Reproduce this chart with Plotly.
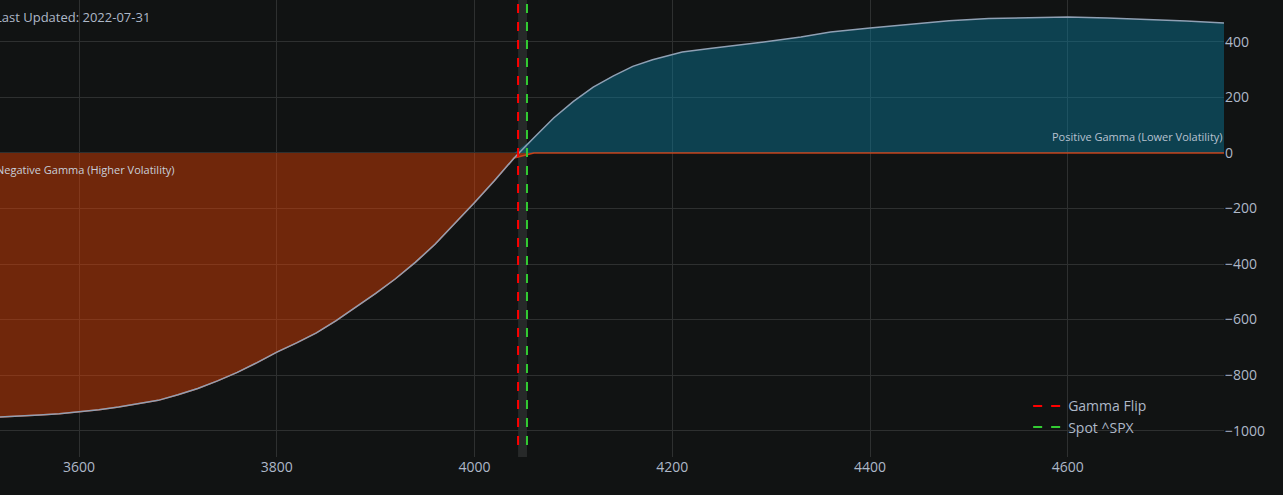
import plotly.graph_objects as go

strikes = [3520, 3540, 3560, 3580, 3600, 3620, 3640, 3660, 3680, 3700, 3720, 3740,
           3760, 3780, 3800, 3820, 3840, 3860, 3880, 3900, 3920, 3940, 3960, 3980,
           4000, 4020, 4040, 4060, 4080, 4100, 4120, 4140, 4160, 4180, 4200, 4210,
           4240, 4270, 4300, 4330, 4360, 4400, 4440, 4480, 4520, 4560, 4600, 4640,
           4680, 4720, 4758]
gamma = [-951, -948, -944, -939, -932, -925, -915, -904, -891, -871, -848, -821,
         -790, -755, -717, -684, -648, -604, -556, -506, -453, -394, -329, -255,
         -178, -100, -18, 55, 126, 186, 237, 277, 312, 336, 355, 364,
         377, 389, 403, 418, 436, 450, 464, 476, 484, 488, 490, 486,
         481, 475, 468]

gamma_flip = 4044
spot = 4053
last_updated = "2022-07-31"
line_ends = [-1052, 560]

neg = [min(v, 0) for v in gamma]
pos = [max(v, 0) for v in gamma]

fig = go.Figure()
fig.add_trace(go.Scatter(x=strikes, y=pos, mode="lines", fill="tozeroy",
                         fillcolor="rgba(8,135,173,0.4)",
                         line=dict(color="rgba(0,0,0,0)", width=0),
                         showlegend=False, hoverinfo="skip"))
fig.add_trace(go.Scatter(x=strikes, y=neg, mode="lines", fill="tozeroy",
                         fillcolor="rgba(255,69,0,0.4)",
                         line=dict(color="rgba(225,70,25,0.85)", width=1.5),
                         showlegend=False, hoverinfo="skip"))
fig.add_trace(go.Scatter(x=strikes, y=gamma, mode="lines",
                         line=dict(color="#8fa0b4", width=1.5),
                         showlegend=False))

fig.add_shape(type="rect", x0=gamma_flip, x1=spot, y0=0, y1=1,
              xref="x", yref="paper",
              fillcolor="rgba(128,128,128,0.2)", line_width=0, layer="below")

fig.add_trace(go.Scatter(x=[gamma_flip, gamma_flip], y=line_ends, mode="lines",
                         name="Gamma Flip",
                         line=dict(color="red", width=2, dash="dash")))
fig.add_trace(go.Scatter(x=[spot, spot], y=line_ends, mode="lines",
                         name="Spot ^SPX",
                         line=dict(color="#33cc33", width=2, dash="dash")))

fig.add_annotation(x=0, y=1, xref="paper", yref="paper", xanchor="left",
                   yanchor="top", xshift=-7, yshift=-6, showarrow=False,
                   text="Last Updated: " + last_updated,
                   font=dict(size=13, color="#aeb8c8"))
fig.add_annotation(x=0, y=0, xref="paper", yref="y", xanchor="left",
                   yanchor="top", xshift=-6, yshift=-7, showarrow=False,
                   text="Negative Gamma (Higher Volatility)",
                   font=dict(size=11, color="#c8cfda"))
fig.add_annotation(x=1, y=0, xref="paper", yref="y", xanchor="right",
                   yanchor="bottom", xshift=1, yshift=7, showarrow=False,
                   text="Positive Gamma (Lower Volatility)",
                   font=dict(size=11, color="#b8c2d0"))

fig.update_layout(
    width=1283, height=495,
    margin=dict(l=0, r=59, t=0, b=38),
    paper_bgcolor="#111313", plot_bgcolor="#111313",
    font=dict(family="Open Sans", color="#aeb8c8", size=14),
    legend=dict(x=0.84, y=0.03, xanchor="left", yanchor="bottom",
                bgcolor="rgba(0,0,0,0)", font=dict(size=14, color="#aeb8c8")),
    xaxis=dict(range=[3520, 4758], showgrid=True, gridcolor="#2e3030",
               zeroline=False, tickvals=[3600, 3800, 4000, 4200, 4400, 4600],
               showline=False),
    yaxis=dict(range=[-1095, 551], side="right", showgrid=True,
               gridcolor="#2e3030", zeroline=False,
               tickvals=[-1000, -800, -600, -400, -200, 0, 200, 400]),
)

fig.write_html("out.html", config={"displayModeBar": False},
               post_script="document.body.style.margin='0';"
                           "document.body.style.background='#111313';")
